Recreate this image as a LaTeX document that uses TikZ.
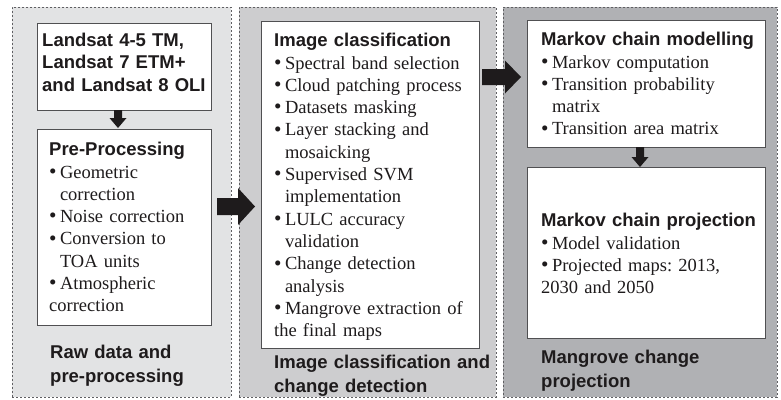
\documentclass[tikz,border=0pt]{standalone}
\usepackage{fontspec}
\setmainfont{Liberation Serif}
\newfontfamily\headfont{Liberation Sans}
\usetikzlibrary{arrows.meta}

\definecolor{panelA}{RGB}{226,227,228}
\definecolor{panelB}{RGB}{205,205,207}
\definecolor{panelC}{RGB}{176,177,180}
\definecolor{ink}{RGB}{30,27,28}
\definecolor{frame}{RGB}{80,80,82}
\definecolor{dashc}{RGB}{95,95,98}

\frenchspacing
% hanging bullet items
\newlength\bulw \setlength\bulw{10.8pt}
\newcommand\itm[1]{\par\hangindent=\bulw\hangafter=1\noindent
  \hbox to\bulw{\raisebox{-0.3pt}{\scalebox{1.15}{\textbullet}}\hfil}#1}
\newcommand\hd[1]{{\headfont\bfseries #1}}

\tikzset{
  panel/.style={draw=dashc, dash pattern=on 2.4pt off 1.6pt, line width=0.8pt,
                rectangle, inner sep=0},
  box/.style={draw=frame, fill=white, line width=0.8pt, rectangle, inner sep=0},
  txt/.style={anchor=base west, inner sep=0, text width=260pt, align=left,
              text=ink, font=\fontsize{18.5}{22.3}\selectfont},
  stagelabel/.style={anchor=base west, inner sep=0, text width=260pt, align=left,
              text=ink, font=\headfont\bfseries\fontsize{18.5}{24}\selectfont},
  blk/.style={fill=ink, draw=none},
}

\begin{document}
\begin{tikzpicture}[x=1pt,y=-1pt]
\useasboundingbox (0,0) rectangle (781,399);

% three stage panels
\node[panel, fill=panelA, minimum width=219pt, minimum height=390pt] (p1) at (121.5,202) {};
\node[panel, fill=panelB, minimum width=257pt, minimum height=390pt] (p2) at (367.5,202) {};
\node[panel, fill=panelC, minimum width=274pt, minimum height=390pt] (p3) at (640,202) {};

% white boxes
\node[box, minimum width=174pt, minimum height=87pt]  (src)  at (124,66.5) {};
\node[box, minimum width=174pt, minimum height=196pt] (pre)  at (124,227) {};
\node[box, minimum width=218pt, minimum height=327pt] (cls)  at (370,184.5) {};
\node[box, minimum width=238pt, minimum height=127pt] (mkv)  at (646,83.5) {};
\node[box, minimum width=238pt, minimum height=171pt] (proj) at (646,252.5) {};

% box contents
\node[txt, font=\headfont\bfseries\fontsize{18.5}{22.3}\selectfont] (srcT) at (42,46.5)
  {Landsat 4-5 TM,\\Landsat 7 ETM+\\and Landsat 8 OLI};

\node[txt] (preT) at (49,155) {\hd{Pre-Processing}\par\vspace{0.7pt}
  \itm{Geometric\newline correction}
  \itm{Noise correction}
  \itm{Conversion to\newline TOA units}
  \itm{Atmospheric\newline correction}};

\node[txt] (clsT) at (274,46) {\hd{Image classification}\par\vspace{0.7pt}
  \itm{Spectral band selection}
  \itm{Cloud patching process}
  \itm{Datasets masking}
  \itm{Layer stacking and\newline mosaicking}
  \itm{Supervised SVM\newline implementation}
  \itm{LULC accuracy\newline validation}
  \itm{Change detection\newline analysis}
  \itm{Mangrove extraction of\newline the final maps}};

\node[txt] (mkvT) at (541,45) {\hd{Markov chain modelling}\par\vspace{0.7pt}
  \itm{Markov computation}
  \itm{Transition probability\newline matrix}
  \itm{Transition area matrix}};

\node[txt] (projT) at (541,226) {\hd{Markov chain projection}\par\vspace{0.7pt}
  \itm{Model validation}
  \itm{Projected maps: 2013,\newline 2030 and 2050}};

% panel captions
\node[stagelabel] (c1) at (50,358)  {Raw data and\\pre-processing};
\node[stagelabel] (c2) at (274,368) {Image classification and\\change detection};
\node[stagelabel] (c3) at (541,363) {Mangrove change\\projection};

% block arrows between stages
\coordinate (srcOut) at (118,110);
\coordinate (mkvOut) at (640,147);
\coordinate (p1Out)  at (217,206.5);
\coordinate (p2Out)  at (482,77);

\fill[blk] (srcOut) ++(-4,0) -- ++(0,8) -- ++(-4.5,0) -- ++(8.5,10)
  -- ++(8.5,-10) -- ++(-4.5,0) -- ++(0,-8) -- cycle;
\fill[blk] (mkvOut) ++(-4,0) -- ++(0,10) -- ++(-4.5,0) -- ++(8.5,10)
  -- ++(8.5,-10) -- ++(-4.5,0) -- ++(0,-10) -- cycle;
\fill[blk] (p1Out) ++(0,-8.5) -- ++(21,0) -- ++(0,-10) -- ++(17,18.5)
  -- ++(-17,18.5) -- ++(0,-10) -- ++(-21,0) -- cycle;
\fill[blk] (p2Out) ++(0,-8) -- ++(23,0) -- ++(0,-8.5) -- ++(16,16.5)
  -- ++(-16,16.5) -- ++(0,-8.5) -- ++(-23,0) -- cycle;
\end{tikzpicture}
\end{document}
